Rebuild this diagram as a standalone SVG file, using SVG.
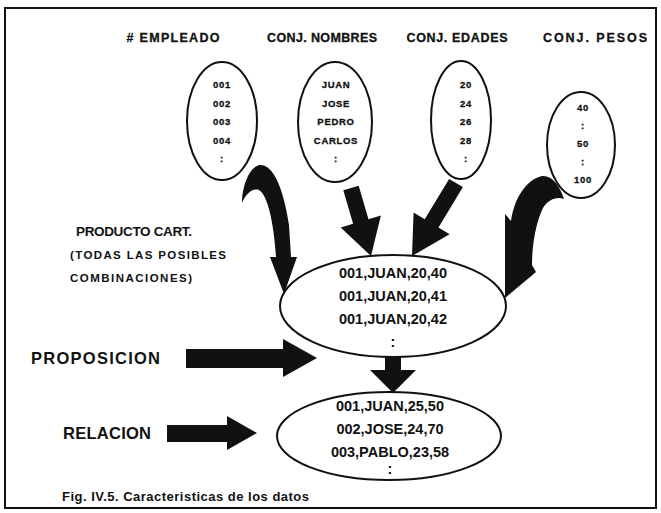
<svg xmlns="http://www.w3.org/2000/svg" width="661" height="513" viewBox="0 0 661 513">
  <style>
    .frame { fill: none; stroke: #111; stroke-width: 2; }
    .set { fill: #fff; stroke: #111; stroke-width: 2; }
    .arrow { fill: #111; stroke: none; }
    text { font-family: "Liberation Sans", Arial, sans-serif; font-weight: bold; fill: #111; }
    .head { font-size: 12.5px; text-anchor: middle; stroke: #111; stroke-width: 0.3; }
    .item { font-size: 9.5px; letter-spacing: 0.7px; text-anchor: middle; stroke: #111; stroke-width: 0.3; }
    .tuple { font-size: 14.5px; text-anchor: middle; }
    .label { font-size: 16.5px; }
    .small { font-size: 11.5px; }
    .caption { font-size: 13px; }
  </style>

  <rect class="frame" x="5" y="8" width="651" height="500"/>

  <!-- column headings -->
  <g id="headings">
    <text class="head" x="173" y="42" textLength="93" lengthAdjust="spacing"># EMPLEADO</text>
    <text class="head" x="322" y="42" textLength="110" lengthAdjust="spacing">CONJ. NOMBRES</text>
    <text class="head" x="457" y="42" textLength="101" lengthAdjust="spacing">CONJ. EDADES</text>
    <text class="head" x="595" y="42" textLength="104" lengthAdjust="spacing">CONJ. PESOS</text>
  </g>

  <!-- source sets -->
  <g id="set-empleado">
    <ellipse class="set" cx="222" cy="121" rx="35" ry="59"/>
    <text class="item" x="222" y="88">001</text>
    <text class="item" x="222" y="107">002</text>
    <text class="item" x="222" y="125">003</text>
    <text class="item" x="222" y="144">004</text>
    <text class="item" x="222" y="162">:</text>
  </g>
  <g id="set-nombres">
    <ellipse class="set" cx="335" cy="122" rx="37" ry="60"/>
    <text class="item" x="336" y="88">JUAN</text>
    <text class="item" x="336" y="107">JOSE</text>
    <text class="item" x="336" y="125">PEDRO</text>
    <text class="item" x="336" y="144">CARLOS</text>
    <text class="item" x="336" y="162">:</text>
  </g>
  <g id="set-edades">
    <ellipse class="set" cx="461" cy="120" rx="30" ry="59"/>
    <text class="item" x="466" y="88">20</text>
    <text class="item" x="466" y="107">24</text>
    <text class="item" x="466" y="125">26</text>
    <text class="item" x="466" y="144">28</text>
    <text class="item" x="466" y="162">:</text>
  </g>
  <g id="set-pesos">
    <ellipse class="set" cx="581" cy="145" rx="34" ry="53"/>
    <text class="item" x="583" y="111">40</text>
    <text class="item" x="583" y="129">:</text>
    <text class="item" x="583" y="147">50</text>
    <text class="item" x="583" y="165">:</text>
    <text class="item" x="583" y="183">100</text>
  </g>

  <!-- left-hand labels -->
  <g id="label-producto">
    <text style="font-size:13.5px" x="76" y="236" textLength="116" lengthAdjust="spacing">PRODUCTO CART.</text>
    <text class="small" x="70" y="259" textLength="156" lengthAdjust="spacing">(TODAS LAS POSIBLES</text>
    <text class="small" x="70" y="282" textLength="122" lengthAdjust="spacing">COMBINACIONES)</text>
  </g>
  <g id="label-proposicion">
    <text class="label" x="31" y="364" textLength="129" lengthAdjust="spacing">PROPOSICION</text>
  </g>
  <g id="label-relacion">
    <text class="label" x="63" y="439" textLength="88" lengthAdjust="spacing">RELACION</text>
  </g>

  <!-- cartesian product -->
  <g id="producto">
    <ellipse class="set" cx="393" cy="306" rx="113" ry="51"/>
    <text class="tuple" x="393" y="278">001,JUAN,20,40</text>
    <text class="tuple" x="393" y="301">001,JUAN,20,41</text>
    <text class="tuple" x="393" y="324">001,JUAN,20,42</text>
    <text class="tuple" x="393" y="347">:</text>
  </g>

  <!-- resulting relation -->
  <g id="relacion">
    <ellipse class="set" cx="389" cy="436" rx="112" ry="44"/>
    <text class="tuple" x="390" y="411">001,JUAN,25,50</text>
    <text class="tuple" x="390" y="434">002,JOSE,24,70</text>
    <text class="tuple" x="390" y="457">003,PABLO,23,58</text>
    <text class="tuple" x="390" y="474">:</text>
  </g>

  <!-- block arrows -->
  <g id="connectors">
    <path class="arrow" d="M242 203 C242 185 250 166 260 165 C272 164 283 185 289 225 L291 257 L297 257 L284 294 L270 257 L276 257 C274 225 268 195 259 190 C252 188 246 194 242 203 Z"/>
    <polygon class="arrow" points="343.3,190.3 358.7,185.7 368.5,219.2 380.9,215.6 371,256 340.7,227.4 353.1,223.8"/>
    <polygon class="arrow" points="449.1,178.9 462.9,187.1 438.5,227.5 449.6,234.2 412,256 413.6,212.6 424.7,219.3"/>
    <path class="arrow" d="M505 298 L505 214 L511 221 C514 200 525 180 542 176 C552 175 560 186 564 199 C556 196 548 200 543 208 C536 222 532 245 532 265 L536 272 Z"/>
    <polygon class="arrow" points="385,356 401,356 401,370 416,370 393,393 370,370 385,370"/>
    <polygon class="arrow" points="186,349 283,349 283,339 317,358 283,377 283,368 186,368"/>
    <polygon class="arrow" points="167,425 227,425 227,416 257,433 227,450 227,442 167,442"/>
  </g>

  <text class="caption" x="62" y="501" textLength="247" lengthAdjust="spacing">Fig. IV.5. Caracteristicas de los datos</text>
</svg>
